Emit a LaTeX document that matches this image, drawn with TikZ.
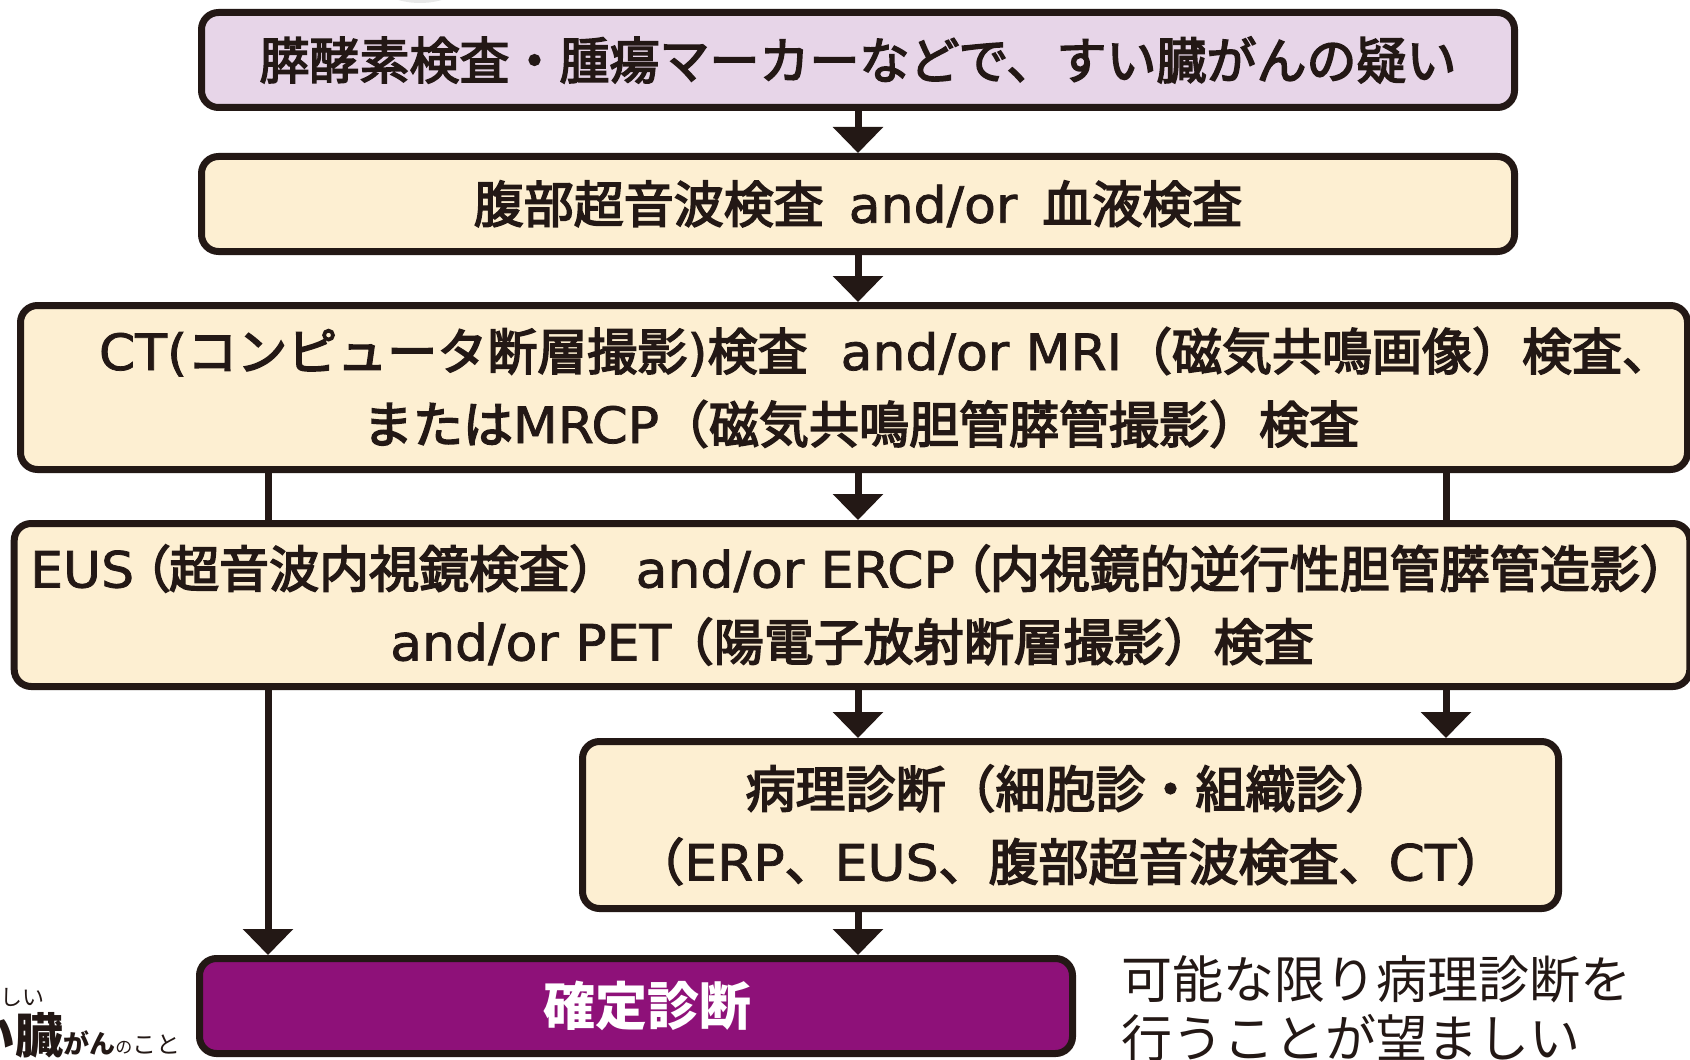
\documentclass[tikz,border=0pt]{standalone}
\usepackage{fontspec}
\setmainfont{Noto Sans CJK JP}
\newfontfamily\cjkmed{Noto Sans CJK JP}[FakeBold=3.2]
\newfontfamily\cjkprop{Noto Sans CJK JP}[FakeBold=3.2,RawFeature=+palt]
\newfontfamily\cjkreg{Noto Sans CJK JP}
\newfontfamily\lat{DejaVu Sans}[FakeStretch=1.04,FakeBold=1.5]
\usetikzlibrary{arrows.meta}
\definecolor{ink}{HTML}{231815}
\definecolor{lavender}{HTML}{E7D5E8}
\definecolor{cream}{HTML}{FDEFD2}
\definecolor{plum}{HTML}{8E1179}
\definecolor{lightgrey}{HTML}{E8E8E8}
\begin{document}
\begin{tikzpicture}[x=0.5pt,y=-0.5pt,
  box/.style={draw=ink, line width=3.5pt, rounded corners=8.5pt, inner sep=0pt,
    align=center, text=ink, font=\fontsize{25pt}{36.5pt}\selectfont\cjkmed},
  conn/.style={draw=ink, line width=3.5pt},
  arr/.style={conn, -{Triangle[width=24.5pt,length=13pt]}},
]
\useasboundingbox (0,0) rectangle (1690,1059);
\fill[white] (0,0) rectangle (1690,1059);
\fill[lightgrey] (420,-77) circle[radius=40pt];

\node[box, fill=lavender, minimum width=656.5pt, minimum height=47.5pt] (b1) at (858,60)
  {膵酵素検査・腫瘍マーカーなどで、すい臓がんの疑い};
\node[box, fill=cream, minimum width=656.5pt, minimum height=47.5pt] (b2) at (858,204)
  {腹部超音波検査{\lat\hspace{0.5em}and/or\hspace{0.5em}}血液検査};
\node[box, fill=cream, minimum width=833.5pt, minimum height=82pt] (b3) at (854,387.5)
  {\hspace*{31.5pt}{\lat CT(}コンピュータ断層撮影{\lat )}検査{\lat\ \ and/or MRI}（磁気共鳴画像）検査、\\
   \hspace*{7pt}または{\lat MRCP}（磁気共鳴胆管膵管撮影）検査};
\node[box, fill=cream, minimum width=835.5pt, minimum height=81.5pt] (b4) at (852,605)
  {\hspace*{8pt}{\lat EUS}\hspace{0.2em}{\cjkprop（}超音波内視鏡検査）{\lat\ and/or ERCP}\hspace{0.2em}{\cjkprop（}内視鏡的逆行性胆管膵管造影）\\
   {\lat and/or PET}\hspace{-0.15em}（陽電子放射断層撮影）検査};
\node[box, fill=cream, minimum width=488pt, minimum height=83.5pt] (b5) at (1070.5,825)
  {病理診断（細胞診・組織診）\\（{\lat ERP}、{\lat EUS}、腹部超音波検査、{\lat CT}）};
\node[box, fill=plum, text=white, minimum width=436.5pt, minimum height=47.5pt,
  font=\fontsize{26pt}{30pt}\selectfont\cjkreg\bfseries] (b6) at (636,1006)
  {\hspace*{11pt}確定診断};

\coordinate (xl) at (268,0);
\coordinate (xc) at (858,0);
\coordinate (xr) at (1446,0);

\draw[arr] (b1.south -| xc) -- (b2.north -| xc);
\draw[arr] (b2.south -| xc) -- (b3.north -| xc);
\draw[conn] (b3.south -| xl) -- (b4.north -| xl);
\draw[arr] (b3.south -| xc) -- (b4.north -| xc);
\draw[conn] (b3.south -| xr) -- (b4.north -| xr);
\draw[arr] (b4.south -| xl) -- (b6.north -| xl);
\draw[arr] (b4.south -| xc) -- (b5.north -| xc);
\draw[arr] (b4.south -| xr) -- (b5.north -| xr);
\draw[arr] (b5.south -| xc) -- (b6.north -| xc);

\node[anchor=west, align=left, inner sep=0pt, text=ink,
  font=\fontsize{25.5pt}{29.5pt}\selectfont\cjkreg] (note) at (1121,1008.5)
  {可能な限り病理診断を\\行うことが望ましい};

\node[anchor=base west, inner sep=0pt, text=ink, font=\fontsize{11pt}{12pt}\selectfont\cjkreg]
  (frag1) at (0,1005) {しい};
\node[anchor=base west, inner sep=0pt, text=ink, font=\cjkreg] (frag2) at (-33,1053)
  {{\fontsize{24pt}{26pt}\selectfont\bfseries い臓}{\fontsize{13pt}{14pt}\selectfont\bfseries がん}{\fontsize{8.5pt}{10pt}\selectfont の}{\fontsize{12pt}{14pt}\selectfont こと}};
\end{tikzpicture}
\end{document}
